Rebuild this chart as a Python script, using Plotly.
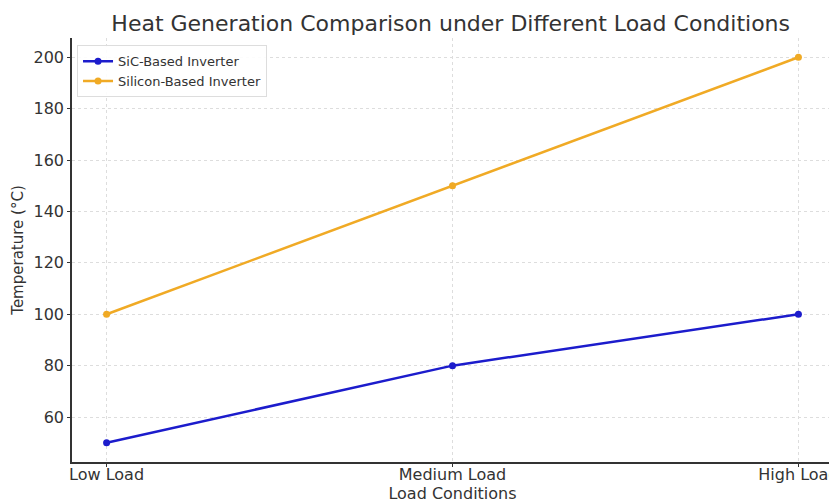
import plotly.graph_objects as go

categories = ["Low Load", "Medium Load", "High Load"]
sic_values = [50, 80, 100]
si_values = [100, 150, 200]
y_ticks = [60, 80, 100, 120, 140, 160, 180, 200]

fig = go.Figure()
fig.add_trace(go.Scatter(x=[0, 1, 2], y=sic_values, mode="lines+markers",
                         name="SiC-Based Inverter",
                         line=dict(color="#1c1ccc", width=2.5),
                         marker=dict(size=7, color="#1c1ccc")))
fig.add_trace(go.Scatter(x=[0, 1, 2], y=si_values, mode="lines+markers",
                         name="Silicon-Based Inverter",
                         line=dict(color="#f0aa25", width=2.5),
                         marker=dict(size=7, color="#f0aa25")))

font = "DejaVu Sans"
fig.update_layout(
    width=829, height=499,
    margin=dict(l=64, r=4, t=30, b=45),
    plot_bgcolor="white", paper_bgcolor="white",
    font=dict(family=font, color="#333333", size=15),
    title=dict(text="Heat Generation Comparison under Different Load Conditions",
               x=0.534, xanchor="center", yref="container", y=0.97, yanchor="middle",
               font=dict(size=22, family=font, color="#333333")),
    showlegend=True,
    legend=dict(x=0.0066, y=0.983, xanchor="left", yanchor="top",
                bgcolor="rgba(255,255,255,0.9)", bordercolor="#dddddd", borderwidth=1,
                font=dict(size=13, family=font, color="#333333"),
                tracegroupgap=0, itemwidth=30),
)
fig.update_xaxes(range=[-0.1, 2.1], tickvals=[0, 1, 2], ticktext=categories,
                 automargin=False, ticklabeloverflow="allow",
                 showline=True, linecolor="#333333", linewidth=1.5,
                 ticks="outside", ticklen=3, tickcolor="#333333",
                 ticklabelstandoff=-6,
                 showgrid=True, gridcolor="#dddddd", griddash="dot", gridwidth=1,
                 zeroline=False, tickfont=dict(size=16),
                 title=dict(text="Load Conditions", font=dict(size=16), standoff=0))
fig.update_yaxes(range=[42.5, 207.5], tickvals=y_ticks,
                 automargin=False,
                 showline=True, linecolor="#333333", linewidth=1.5,
                 ticks="outside", ticklen=3, tickcolor="#333333",
                 showgrid=True, gridcolor="#dddddd", griddash="dot", gridwidth=1,
                 zeroline=False, tickfont=dict(size=16),
                 title=dict(text="Temperature (°C)", font=dict(size=15), standoff=6))

fig.write_html("out.html")
